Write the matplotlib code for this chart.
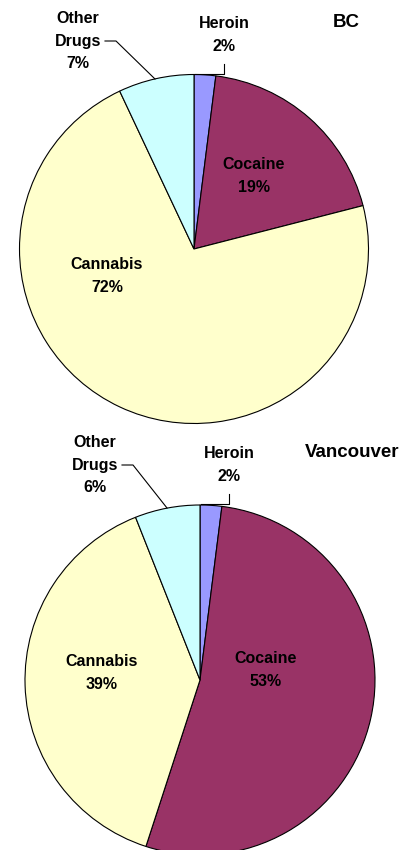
import matplotlib.pyplot as plt

plt.rcParams['font.family'] = ['Liberation Sans', 'DejaVu Sans']

W, H = 412, 850

drugs = ['Heroin', 'Cocaine', 'Cannabis', 'Other Drugs']
colors = ['#9999FF', '#993366', '#FFFFCC', '#CCFFFF']
bc_share = [2, 19, 72, 7]
van_share = [2, 53, 39, 6]

fig = plt.figure(figsize=(W / 100, H / 100), dpi=100)
ax = fig.add_axes([0, 0, 1, 1])
ax.set_xlim(0, W)
ax.set_ylim(0, H)
ax.set_aspect('equal')
ax.axis('off')

lbl = dict(ha='center', va='center', fontsize=11.5, fontweight='bold',
           linespacing=1.6)


def draw_pie(values, cx, cy, r, title, tpos, inner, heroin, other):
    # y values are measured from the top edge, flip them for the axes
    ax.pie(values, colors=colors, startangle=90, counterclock=False,
           center=(cx, H - cy), radius=r, frame=True,
           wedgeprops=dict(edgecolor='black', linewidth=0.8))
    ax.text(tpos[0], H - tpos[1], title, ha='center', va='center',
            fontsize=13.5, fontweight='bold')
    # labels inside the two big slices
    for i, (x, y) in inner.items():
        ax.text(x, H - y, f'{drugs[i]}\n{values[i]}%', **lbl)
    # heroin label with elbow leader
    hx, hy = heroin
    ax.text(hx, H - hy, f'{drugs[0]}\n{values[0]}%', **lbl)
    ax.plot([hx, hx, cx + 1], [H - (hy + 29), H - (cy - r - 1), H - (cy - r - 1)],
            color='black', lw=0.8)
    # other drugs label with bent leader
    ox, oy, lx, ly = other
    ax.text(ox, H - oy, f'Other\nDrugs\n{values[3]}%', **lbl)
    ax.plot([ox + 27, ox + 38, lx], [H - oy, H - oy, H - ly],
            color='black', lw=0.8)


draw_pie(bc_share, 194, 249, 174.5, 'BC', (346, 22),
         {1: (254, 176), 2: (107, 276)},
         (224, 35), (78, 41, 155, 79))
draw_pie(van_share, 200, 680, 175, 'Vancouver', (352, 452),
         {1: (266, 670), 2: (102, 673)},
         (229, 465), (95, 465, 167, 508))

ax.set_xlim(0, W)
ax.set_ylim(0, H)
ax.axis('off')

fig.savefig('out.png', dpi=100)
